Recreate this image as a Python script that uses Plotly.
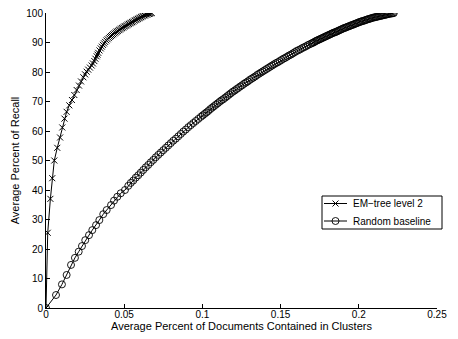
import plotly.graph_objects as go

# EM-tree level 2 curve
em_x = [0, 0.0011, 0.0028, 0.0040, 0.0053, 0.0072, 0.0090, 0.0104, 0.0118, 0.0132,
        0.0149, 0.0166, 0.0181, 0.0196, 0.0211, 0.0224, 0.0239, 0.0250, 0.0260, 0.0270,
        0.0281, 0.0292, 0.0300, 0.0309, 0.0316, 0.0324, 0.0329, 0.0334, 0.0342, 0.0350,
        0.0357, 0.0364, 0.0371, 0.0378, 0.0386, 0.0394, 0.0402, 0.0409, 0.0416, 0.0423,
        0.0430, 0.0438, 0.0445, 0.0452, 0.0459, 0.0466, 0.0473, 0.0480, 0.0487, 0.0494,
        0.0501, 0.0508, 0.0516, 0.0523, 0.0530, 0.0537, 0.0544, 0.0551, 0.0558, 0.0566,
        0.0573, 0.0580, 0.0587, 0.0594, 0.0601, 0.0608, 0.0615, 0.0622, 0.0629, 0.0636,
        0.0643, 0.0650, 0.0658, 0.0665, 0.0670, 0.0676]
em_y = [0, 25.5, 37.0, 44.0, 50.0, 54.3, 57.8, 61.2, 64.2, 66.5,
        68.7, 70.5, 72.2, 73.9, 75.4, 76.8, 78.2, 79.2, 80.1, 80.8,
        81.5, 82.2, 82.9, 83.7, 84.5, 85.3, 85.9, 86.5, 87.3, 88.0,
        88.6, 89.2, 89.7, 90.2, 90.7, 91.1, 91.5, 91.9, 92.2, 92.5,
        92.8, 93.1, 93.4, 93.7, 93.9, 94.2, 94.4, 94.7, 94.9, 95.1,
        95.4, 95.6, 95.8, 96.1, 96.3, 96.5, 96.7, 96.9, 97.1, 97.4,
        97.6, 97.8, 98.0, 98.2, 98.4, 98.6, 98.8, 99.0, 99.2, 99.35,
        99.5, 99.6, 99.7, 99.8, 99.9, 100.0]

# Random baseline curve
rb_x = [0, 0.0064, 0.0102, 0.0132, 0.0160, 0.0185, 0.0209, 0.0230, 0.0251, 0.0275,
        0.0296, 0.0320, 0.0341, 0.0366, 0.0388, 0.0416, 0.0435, 0.0456, 0.0478, 0.0505,
        0.0526, 0.0542, 0.0558, 0.0574, 0.0590, 0.0606, 0.0622, 0.0638, 0.0654, 0.0670,
        0.0686, 0.0702, 0.0718, 0.0734, 0.0750, 0.0766, 0.0782, 0.0798, 0.0814, 0.0830,
        0.0846, 0.0862, 0.0878, 0.0894, 0.0910, 0.0926, 0.0942, 0.0958, 0.0974, 0.0990,
        0.1002, 0.1014, 0.1026, 0.1038, 0.1050, 0.1062, 0.1074, 0.1086, 0.1098, 0.1110,
        0.1122, 0.1134, 0.1146, 0.1158, 0.1170, 0.1182, 0.1194, 0.1206, 0.1218, 0.1230,
        0.1242, 0.1254, 0.1266, 0.1278, 0.1290, 0.1302, 0.1314, 0.1326, 0.1338, 0.1350,
        0.1362, 0.1374, 0.1386, 0.1398, 0.1410, 0.1422, 0.1434, 0.1446, 0.1458, 0.1470,
        0.1482, 0.1494, 0.1506, 0.1518, 0.1530, 0.1542, 0.1554, 0.1566, 0.1578, 0.1590,
        0.1602, 0.1614, 0.1626, 0.1638, 0.1650, 0.1662, 0.1674, 0.1686, 0.1698,
        0.1706, 0.1714, 0.1722, 0.1730, 0.1738, 0.1746, 0.1754, 0.1762, 0.1770, 0.1778,
        0.1786, 0.1794, 0.1802, 0.1810, 0.1818, 0.1826, 0.1834, 0.1842, 0.1850, 0.1858,
        0.1866, 0.1874, 0.1882, 0.1890, 0.1898, 0.1906, 0.1914, 0.1922, 0.1930, 0.1938,
        0.1946, 0.1954, 0.1962, 0.1970, 0.1978, 0.1986, 0.1994, 0.2002, 0.2010, 0.2018,
        0.2026, 0.2034, 0.2042, 0.2050, 0.2058, 0.2066, 0.2074, 0.2082, 0.2090, 0.2098,
        0.2106, 0.2114, 0.2122, 0.2130, 0.2138, 0.2146, 0.2154, 0.2162, 0.2170, 0.2178,
        0.2186, 0.2194, 0.2202, 0.2210, 0.2218, 0.2224]
rb_y = [0, 4.4, 8.0, 11.2, 14.6, 17.0, 19.1, 21.0, 23.0, 24.7,
        26.4, 28.1, 29.8, 31.8, 33.2, 34.9, 36.4, 37.7, 38.9, 40.0,
        41.4, 42.4, 43.2, 44.2, 45.0, 45.9, 46.8, 47.7, 48.5, 49.4,
        50.2, 51.1, 51.9, 52.7, 53.5, 54.3, 55.1, 55.9, 56.7, 57.4,
        58.2, 59.0, 59.8, 60.5, 61.3, 62.0, 62.7, 63.4, 64.1, 64.8,
        65.3, 65.8, 66.3, 66.8, 67.4, 67.9, 68.4, 68.9, 69.4, 69.9,
        70.4, 70.8, 71.3, 71.8, 72.3, 72.8, 73.3, 73.7, 74.2, 74.6,
        75.1, 75.5, 76.0, 76.4, 76.8, 77.3, 77.7, 78.1, 78.5, 79.0,
        79.4, 79.8, 80.2, 80.6, 81.0, 81.4, 81.8, 82.2, 82.6, 83.0,
        83.3, 83.7, 84.1, 84.5, 84.8, 85.2, 85.6, 85.9, 86.3, 86.7,
        87.1, 87.4, 87.7, 88.1, 88.4, 88.7, 89.1, 89.4, 89.7,
        89.9, 90.1, 90.4, 90.6, 90.8, 91.0, 91.2, 91.4, 91.6, 91.8,
        92.0, 92.2, 92.4, 92.6, 92.8, 93.0, 93.2, 93.4, 93.5, 93.7,
        93.9, 94.1, 94.3, 94.5, 94.7, 94.9, 95.0, 95.2, 95.4, 95.5,
        95.7, 95.9, 96.0, 96.2, 96.4, 96.5, 96.7, 96.9, 97.0, 97.2,
        97.3, 97.4, 97.6, 97.7, 97.9, 98.0, 98.1, 98.3, 98.4, 98.5,
        98.6, 98.7, 98.8, 98.9, 99.0, 99.1, 99.2, 99.3, 99.4, 99.5,
        99.6, 99.7, 99.8, 99.85, 99.9, 100.0]

x_ticks = [0, 0.05, 0.1, 0.15, 0.2, 0.25]
x_tick_text = ["0", "0.05", "0.1", "0.15", "0.2", "0.25"]
y_ticks = [0, 10, 20, 30, 40, 50, 60, 70, 80, 90, 100]

series_names = ["EM\u2212tree level 2", "Random baseline"]

FONT = "Liberation Sans, Arial, Helvetica, sans-serif"
W, H = 458, 339
ML, MR, MT, MB = 46, 21, 13, 31
PW, PH = W - ML - MR, H - MT - MB


def px_x(p):
    """Pixel column -> paper x."""
    return (p - ML) / PW


def px_y(p):
    """Pixel row (from top) -> paper y."""
    return (H - MB - p) / PH


fig = go.Figure()
fig.add_trace(go.Scatter(
    x=em_x, y=em_y, mode="lines+markers", name=series_names[0],
    line=dict(color="black", width=1),
    marker=dict(symbol="x-thin-open", size=6, color="black",
                line=dict(color="black", width=1)),
    showlegend=False,
))
fig.add_trace(go.Scatter(
    x=rb_x, y=rb_y, mode="lines+markers", name=series_names[1],
    line=dict(color="black", width=1),
    marker=dict(symbol="circle-open", size=7, color="black",
                line=dict(color="black", width=0.9)),
    showlegend=False,
))

axis_common = dict(
    showline=True, linecolor="black", linewidth=1,
    ticks="inside", ticklen=4, tickcolor="black", tickwidth=1,
    showgrid=False, zeroline=False, mirror=False,
    tickfont=dict(family=FONT, size=10, color="black"),
    automargin=False,
)

# Compact boxed legend drawn with shapes and annotations
shapes = []
annotations = []
box_l, box_r, box_t, box_b = 322, 442, 196, 229
shapes.append(dict(type="rect", xref="paper", yref="paper",
                   x0=px_x(box_l), x1=px_x(box_r), y0=px_y(box_b), y1=px_y(box_t),
                   line=dict(color="black", width=1), fillcolor="white", layer="above"))
rows = [203.5, 221.0]
key_l, key_r, key_c = 324, 347, 335.5
for i, (name, row) in enumerate(zip(series_names, rows)):
    shapes.append(dict(type="line", xref="paper", yref="paper",
                       x0=px_x(key_l), x1=px_x(key_r), y0=px_y(row), y1=px_y(row),
                       line=dict(color="black", width=1), layer="above"))
    if i == 0:
        r = 3
        for dy in (-r, r):
            shapes.append(dict(type="line", xref="paper", yref="paper",
                               x0=px_x(key_c - r), x1=px_x(key_c + r),
                               y0=px_y(row + dy), y1=px_y(row - dy),
                               line=dict(color="black", width=1), layer="above"))
    else:
        r = 3.5
        shapes.append(dict(type="circle", xref="paper", yref="paper",
                           x0=px_x(key_c - r), x1=px_x(key_c + r),
                           y0=px_y(row + r), y1=px_y(row - r),
                           line=dict(color="black", width=0.9), layer="above"))
    annotations.append(dict(text=name, xref="paper", yref="paper",
                            x=px_x(351), y=px_y(row), xanchor="left", yanchor="middle",
                            showarrow=False,
                            font=dict(family=FONT, size=10, color="black")))

fig.update_layout(
    width=W, height=H,
    margin=dict(l=ML, r=MR, t=MT, b=MB),
    paper_bgcolor="white", plot_bgcolor="white",
    font=dict(family=FONT, size=10, color="black"),
    xaxis=dict(range=[0, 0.25], tickvals=x_ticks, ticktext=x_tick_text,
               ticklabelstandoff=-3,
               title=dict(text="Average Percent of Documents Contained in Clusters",
                          font=dict(family=FONT, size=11, color="black"), standoff=2),
               **axis_common),
    yaxis=dict(range=[0, 100], tickvals=y_ticks,
               title=dict(text="Average Percent of Recall",
                          font=dict(family=FONT, size=11, color="black"), standoff=4),
               **axis_common),
    shapes=shapes,
    annotations=annotations,
    showlegend=False,
)

fig.write_html("out.html")
